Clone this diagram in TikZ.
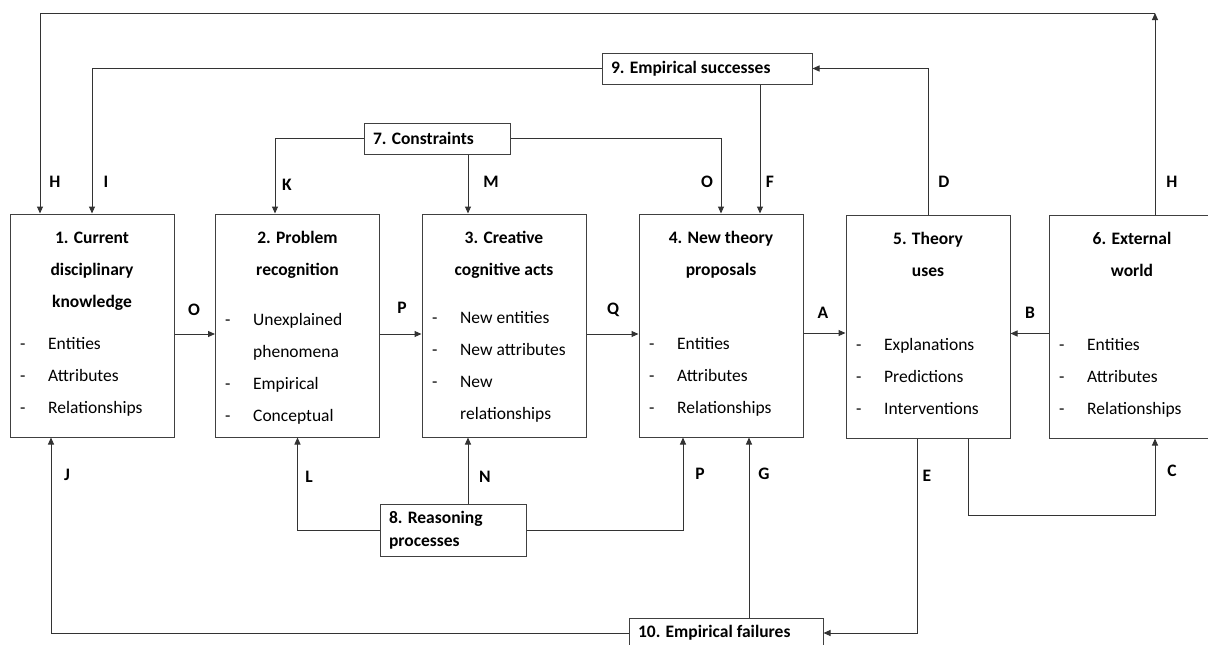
\documentclass[tikz,border=0pt]{standalone}
\usepackage{fontspec}
\setmainfont{Carlito}
\usetikzlibrary{arrows.meta}

\newcommand\dashitem[1]{\makebox[28pt][l]{-}#1}
\newcommand\contitem[1]{\hspace*{28pt}#1}

\tikzset{
  bigbox/.style={draw=black!75,line width=1pt,rectangle,minimum width=164pt,minimum height=223pt,inner sep=0pt},
  smallbox/.style={draw=black!75,line width=1pt,rectangle,inner xsep=9pt,inner ysep=0pt,align=flush left,font=\bfseries\fontsize{17.5}{23}\selectfont},
  boxtitle/.style={anchor=north,align=center,inner sep=0pt,font=\bfseries\fontsize{17.5}{32}\selectfont},
  boxitems/.style={anchor=north west,align=left,inner sep=0pt,font=\fontsize{17.5}{32}\selectfont},
  lbl/.style={inner sep=0pt,font=\bfseries\fontsize{17.5}{21}\selectfont},
  arr/.style={-{Triangle[length=7pt,width=6pt]},line width=1pt,draw=black!80}
}

\begin{document}
\begin{tikzpicture}[x=1pt,y=-1pt]
\useasboundingbox (0,0) rectangle (1208,645);

\node[bigbox] (b1) at (92,325.5) {};
\node[bigbox] (b2) at (297.5,325.5) {};
\node[bigbox] (b3) at (504,325.5) {};
\node[bigbox] (b4) at (721,325.5) {};
\node[bigbox] (b5) at (928,326.5) {};
\node[bigbox,minimum width=166pt] (b6) at (1132,326.5) {};

\node[boxtitle] (t1) at (92,228.5) {\rule{0pt}{15pt}1. Current\\disciplinary\\knowledge};
\node[boxtitle] (t2) at (297.5,228.5) {\rule{0pt}{15pt}2. Problem\\recognition};
\node[boxtitle] (t3) at (504,228.5) {\rule{0pt}{15pt}3. Creative\\cognitive acts};
\node[boxtitle] (t4) at (721,228.5) {\rule{0pt}{15pt}4. New theory\\proposals};
\node[boxtitle] (t5) at (928,229.5) {\rule{0pt}{15pt}5. Theory\\uses};
\node[boxtitle] (t6) at (1132,229.5) {\rule{0pt}{15pt}6. External\\world};

\node[boxitems] (i1) at (20,334.5) {\rule{0pt}{15pt}\dashitem{Entities}\\\dashitem{Attributes}\\\dashitem{Relationships}};
\node[boxitems] (i2) at (225,310.5) {\rule{0pt}{15pt}\dashitem{Unexplained}\\\contitem{phenomena}\\\dashitem{Empirical}\\\dashitem{Conceptual}};
\node[boxitems] (i3) at (432,308.5) {\rule{0pt}{15pt}\dashitem{New entities}\\\dashitem{New attributes}\\\dashitem{New}\\\contitem{relationships}};
\node[boxitems] (i4) at (649,334.5) {\rule{0pt}{15pt}\dashitem{Entities}\\\dashitem{Attributes}\\\dashitem{Relationships}};
\node[boxitems] (i5) at (856,335.5) {\rule{0pt}{15pt}\dashitem{Explanations}\\\dashitem{Predictions}\\\dashitem{Interventions}};
\node[boxitems] (i6) at (1059,335.5) {\rule{0pt}{15pt}\dashitem{Entities}\\\dashitem{Attributes}\\\dashitem{Relationships}};

\node[smallbox,minimum height=31pt,text width=128pt] (b7) at (437,138.5) {7. Constraints};
\node[smallbox,minimum height=31pt,text width=192pt] (b9) at (707,68.5) {9. Empirical successes};
\node[smallbox,minimum height=52pt,text width=128pt] (b8) at (453,530) {8. Reasoning\\processes};
\node[smallbox,minimum height=30pt,text width=176pt] (b10) at (726,633) {10. Empirical failures};

\coordinate (htop) at (1155,13);
\draw[arr] ([xshift=23pt]b6.north) -- (htop);
\draw[arr] (htop) -| ([xshift=-52pt]b1.north);
\draw[arr] (b9.west) -| (b1.north);
\draw[arr] (b5.north) |- (b9.east);
\draw[arr] ([xshift=53pt]b9.south) -- ([xshift=53pt]b9.south |- b4.north);
\draw[arr] (b7.west) -| ([xshift=-22.5pt]b2.north);
\draw[arr] ([xshift=31pt]b7.south) -- ([xshift=31pt]b7.south |- b3.north);
\draw[arr] (b7.east) -| (b4.north);

\draw[arr] ([yshift=-8.5pt]b1.east) -- ([yshift=-8.5pt]b2.west);
\draw[arr] ([yshift=-8.5pt]b2.east) -- ([yshift=-8.5pt]b3.west);
\draw[arr] ([yshift=-8.5pt]b3.east) -- ([yshift=-8.5pt]b4.west);
\draw[arr] ([yshift=-7.5pt]b4.east) -- ([yshift=-7.5pt]b4.east -| b5.west);
\draw[arr] ([yshift=-7pt]b6.west) -- ([yshift=-7pt]b6.west -| b5.east);

\draw[arr] (b10.west) -| ([xshift=-41pt]b1.south);
\draw[arr] (b8.west) -| (b2.south);
\draw[arr] ([xshift=15pt]b8.north) -- ([xshift=15pt]b8.north |- b3.south);
\draw[arr] (b8.east) -| ([xshift=-38pt]b4.south);
\draw[arr] ([xshift=23pt]b10.north) -- ([xshift=23pt]b10.north |- b4.south);
\draw[arr] ([xshift=-11pt]b5.south) |- (b10.east);
\draw[arr] ([xshift=40pt]b5.south) -- ++(0,77) -| ([xshift=23pt]b6.south);

\node[lbl] (lh1) at (55,182) {H};
\node[lbl] (li) at (106,182) {I};
\node[lbl] (lk) at (287,185) {K};
\node[lbl] (lm) at (491,182) {M};
\node[lbl] (lo1) at (707,182) {O};
\node[lbl] (lf) at (770,182) {F};
\node[lbl] (ld) at (944,182) {D};
\node[lbl] (lh2) at (1172,182) {H};
\node[lbl] (lo2) at (194,310) {O};
\node[lbl] (lp1) at (402,308) {P};
\node[lbl] (lq) at (613,310) {Q};
\node[lbl] (la) at (823,313) {A};
\node[lbl] (lb) at (1030,313) {B};
\node[lbl] (lj) at (67,475) {J};
\node[lbl] (ll) at (309,477) {L};
\node[lbl] (ln) at (485,477) {N};
\node[lbl] (lp2) at (700,474) {P};
\node[lbl] (lg) at (764,474) {G};
\node[lbl] (le) at (927,476) {E};
\node[lbl] (lc) at (1172,471) {C};
\end{tikzpicture}
\end{document}
